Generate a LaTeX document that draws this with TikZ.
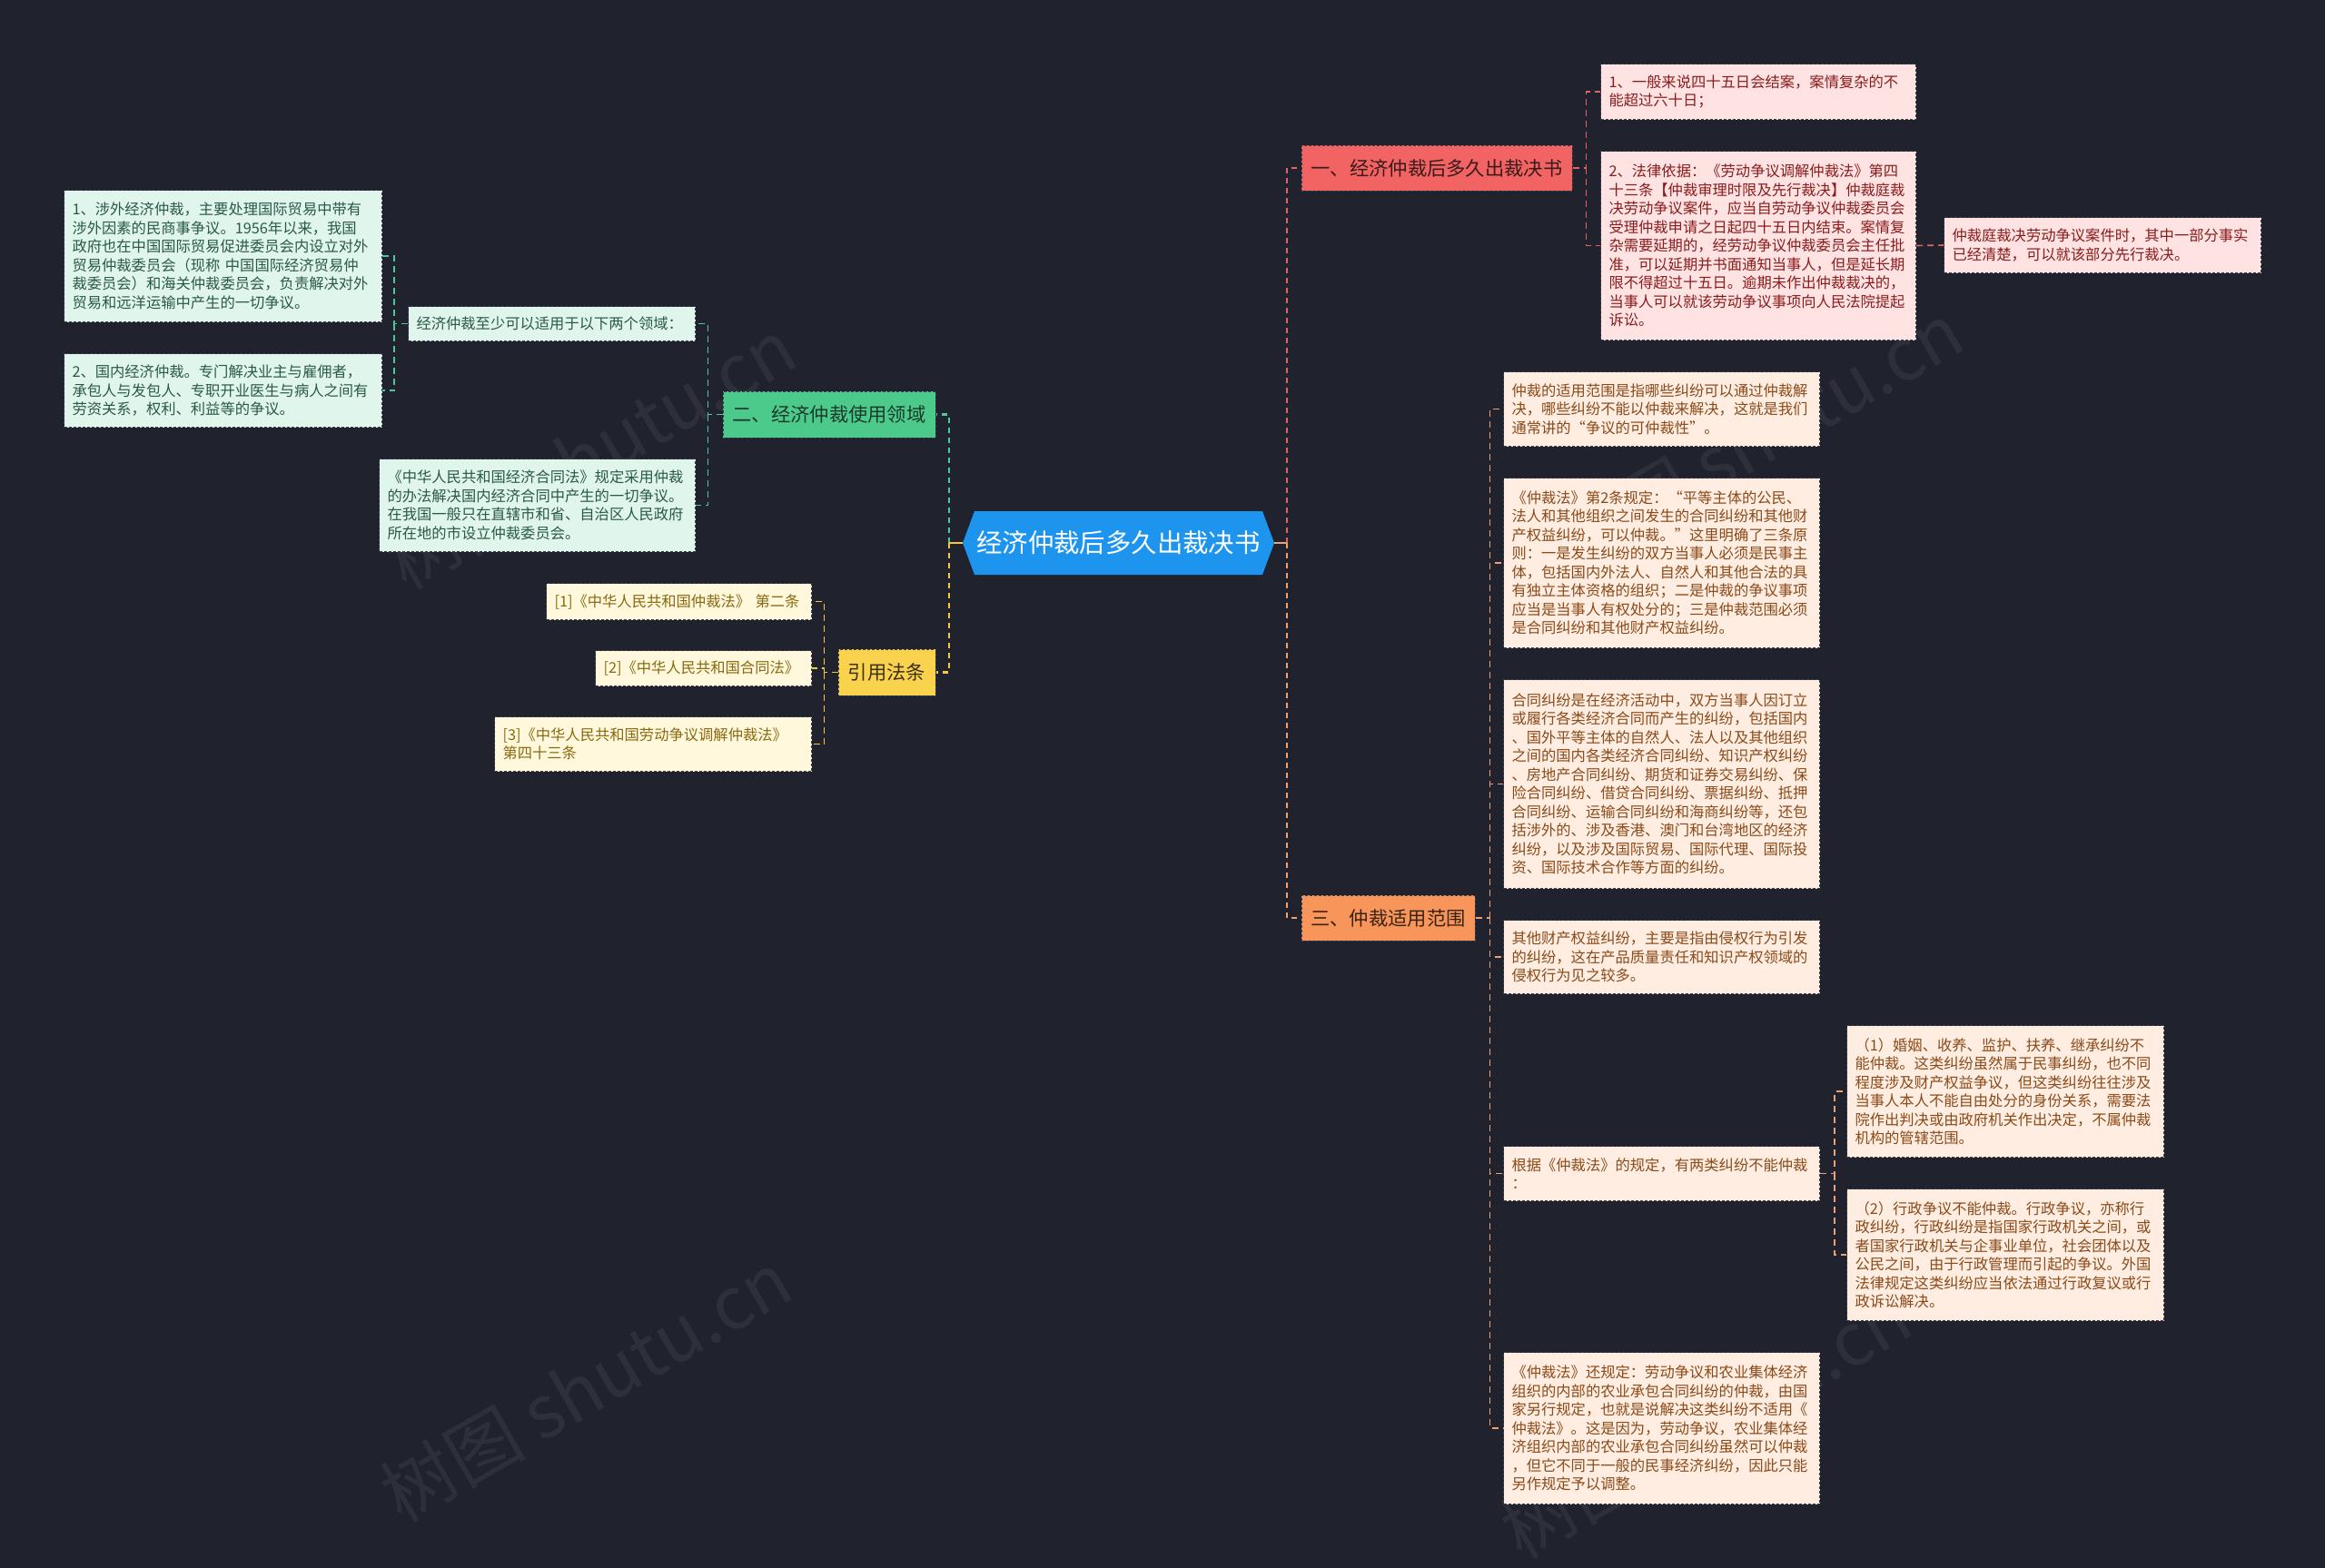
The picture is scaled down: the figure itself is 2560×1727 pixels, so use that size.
\documentclass[tikz,border=0pt]{standalone}
\usepackage{fontspec}
\setmainfont{Noto Sans CJK SC}
\usetikzlibrary{calc}
\definecolor{bgc}{HTML}{20232E}
\definecolor{edgec}{HTML}{3A3F4C}
\definecolor{rootc}{HTML}{1D95EE}
% red
\definecolor{bR}{HTML}{F26363}
\definecolor{btR}{HTML}{3A1A1A}
\definecolor{lfR}{HTML}{FFE3E3}
\definecolor{ltR}{HTML}{8A1C1C}
\definecolor{cR}{HTML}{E06464}
% green
\definecolor{bG}{HTML}{4CCA8C}
\definecolor{btG}{HTML}{1C3A2C}
\definecolor{lfG}{HTML}{E0F5EC}
\definecolor{ltG}{HTML}{2A5A45}
\definecolor{cG}{HTML}{4CC99A}
% yellow
\definecolor{bY}{HTML}{F9D24E}
\definecolor{btY}{HTML}{3A3010}
\definecolor{lfY}{HTML}{FFF8DC}
\definecolor{ltY}{HTML}{8A6A10}
\definecolor{cY}{HTML}{F5C842}
% orange
\definecolor{bO}{HTML}{F7955A}
\definecolor{btO}{HTML}{3A2212}
\definecolor{lfO}{HTML}{FEEDE0}
\definecolor{ltO}{HTML}{8B4A1A}
\definecolor{cO}{HTML}{F0A070}
\begin{document}
\begin{tikzpicture}[x=1pt,y=-1pt,
  leaf/.style={anchor=north west, draw=edgec, dash pattern=on 3pt off 2pt, line width=1pt,
    align=left, inner xsep=9pt, inner ysep=0pt, font=\fontsize{16.3pt}{20.5pt}\selectfont},
  leafR/.style={leaf, fill=lfR, text=ltR},
  leafG/.style={leaf, fill=lfG, text=ltG},
  leafY/.style={leaf, fill=lfY, text=ltY},
  leafO/.style={leaf, fill=lfO, text=ltO},
  branch/.style={draw=edgec, dash pattern=on 3pt off 2pt, line width=1pt, inner sep=0pt,
    font=\fontsize{21.3pt}{25pt}\selectfont},
  brnR/.style={branch, fill=bR, text=btR},
  brnG/.style={branch, fill=bG, text=btG},
  brnY/.style={branch, fill=bY, text=btY},
  brnO/.style={branch, fill=bO, text=btO},
  rootnode/.style={inner sep=0pt, text=white, font=\fontsize{28.4pt}{32pt}\selectfont,
    path picture={\fill[rootc] (path picture bounding box.west)
      -- ([xshift=13pt]path picture bounding box.north west)
      -- ([xshift=-13pt]path picture bounding box.north east)
      -- (path picture bounding box.east)
      -- ([xshift=-13pt]path picture bounding box.south east)
      -- ([xshift=13pt]path picture bounding box.south west) -- cycle;}},
  conn/.style={line width=2.2pt, dash pattern=on 6pt off 5pt},
  connR/.style={conn, draw=cR}, connG/.style={conn, draw=cG},
  connY/.style={conn, draw=cY}, connO/.style={conn, draw=cO},
  lconn/.style={line width=1.6pt, dash pattern=on 7pt off 5pt},
  lconnR/.style={lconn, draw=cR}, lconnG/.style={lconn, draw=cG},
  lconnY/.style={lconn, draw=cY}, lconnO/.style={lconn, draw=cO},
  wm/.style={text=white, opacity=0.06, font=\fontsize{80pt}{90pt}\selectfont, rotate=30}
]
\fill[bgc] (0,0) rectangle (2560,1727);
\useasboundingbox (0,0) rectangle (2560,1727);

% watermarks
\node[wm] (wm1) at (650,500) {树图 shutu.cn};
\node[wm] (wm2) at (1935,482) {树图 shutu.cn};
\node[wm] (wm3) at (645,1527) {树图 shutu.cn};
\node[wm] (wm4) at (1878,1567) {树图 shutu.cn};

% root
\node[rootnode, minimum width=343pt, minimum height=70pt] (root) at (1231.5,598) {经济仲裁后多久出裁决书};

% branches
\node[brnR, minimum width=298pt, minimum height=50pt] (b1) at (1582,185) {一、经济仲裁后多久出裁决书};
\node[brnG, minimum width=234pt, minimum height=51pt] (b2) at (913,456.5) {二、经济仲裁使用领域};
\node[brnO, minimum width=191pt, minimum height=50pt] (b3) at (1528.5,1011) {三、仲裁适用范围};
\node[brnY, minimum width=107pt, minimum height=51pt] (b4) at (976.5,740.5) {引用法条};

% red leaves
\node[leafR, text width=329pt, minimum height=61pt] (r1) at (1762,70) {1、一般来说四十五日会结案，案情复杂的不\\能超过六十日；};
\node[leafR, text width=329pt, minimum height=208pt] (r2) at (1762,166) {2、法律依据：《劳动争议调解仲裁法》第四\\十三条【仲裁审理时限及先行裁决】仲裁庭裁\\决劳动争议案件，应当自劳动争议仲裁委员会\\受理仲裁申请之日起四十五日内结束。案情复\\杂需要延期的，经劳动争议仲裁委员会主任批\\准，可以延期并书面通知当事人，但是延长期\\限不得超过十五日。逾期未作出仲裁裁决的，\\当事人可以就该劳动争议事项向人民法院提起\\诉讼。};
\node[leafR, text width=331pt, minimum height=61pt] (r3) at (2140,239) {仲裁庭裁决劳动争议案件时，其中一部分事实\\已经清楚，可以就该部分先行裁决。};

% green leaves
\node[leafG, text width=298pt, minimum height=38pt] (g0) at (449,337) {经济仲裁至少可以适用于以下两个领域：};
\node[leafG, text width=332pt, minimum height=145pt] (g1) at (70,209) {1、涉外经济仲裁，主要处理国际贸易中带有\\涉外因素的民商事争议。1956年以来，我国\\政府也在中国国际贸易促进委员会内设立对外\\贸易仲裁委员会（现称 中国国际经济贸易仲\\裁委员会）和海关仲裁委员会，负责解决对外\\贸易和远洋运输中产生的一切争议。};
\node[leafG, text width=332pt, minimum height=81pt] (g2) at (70,389) {2、国内经济仲裁。专门解决业主与雇佣者，\\承包人与发包人、专职开业医生与病人之间有\\劳资关系，权利、利益等的争议。};
\node[leafG, text width=330pt, minimum height=102pt] (g3) at (417,505) {《中华人民共和国经济合同法》规定采用仲裁\\的办法解决国内经济合同中产生的一切争议。\\在我国一般只在直辖市和省、自治区人民政府\\所在地的市设立仲裁委员会。};

% yellow leaves
\node[leafY, text width=274pt, minimum height=40pt] (y1) at (601,642) {[1]《中华人民共和国仲裁法》 第二条};
\node[leafY, text width=220pt, minimum height=39pt] (y2) at (655,716) {[2]《中华人民共和国合同法》};
\node[leafY, text width=331pt, minimum height=60pt] (y3) at (544,789) {[3]《中华人民共和国劳动争议调解仲裁法》\\第四十三条};

% orange leaves
\node[leafO, text width=330pt, minimum height=82pt] (o1) at (1655,409) {仲裁的适用范围是指哪些纠纷可以通过仲裁解\\决，哪些纠纷不能以仲裁来解决，这就是我们\\通常讲的“争议的可仲裁性”。};
\node[leafO, text width=330pt, minimum height=187pt] (o2) at (1655,526) {《仲裁法》第2条规定：“平等主体的公民、\\法人和其他组织之间发生的合同纠纷和其他财\\产权益纠纷，可以仲裁。”这里明确了三条原\\则：一是发生纠纷的双方当事人必须是民事主\\体，包括国内外法人、自然人和其他合法的具\\有独立主体资格的组织；二是仲裁的争议事项\\应当是当事人有权处分的；三是仲裁范围必须\\是合同纠纷和其他财产权益纠纷。};
\node[leafO, text width=330pt, minimum height=230pt] (o3) at (1655,748) {合同纠纷是在经济活动中，双方当事人因订立\\或履行各类经济合同而产生的纠纷，包括国内\\、国外平等主体的自然人、法人以及其他组织\\之间的国内各类经济合同纠纷、知识产权纠纷\\、房地产合同纠纷、期货和证券交易纠纷、保\\险合同纠纷、借贷合同纠纷、票据纠纷、抵押\\合同纠纷、运输合同纠纷和海商纠纷等，还包\\括涉外的、涉及香港、澳门和台湾地区的经济\\纠纷，以及涉及国际贸易、国际代理、国际投\\资、国际技术合作等方面的纠纷。};
\node[leafO, text width=330pt, minimum height=81pt] (o4) at (1655,1013) {其他财产权益纠纷，主要是指由侵权行为引发\\的纠纷，这在产品质量责任和知识产权领域的\\侵权行为见之较多。};
\node[leafO, text width=330pt, minimum height=60pt] (o5) at (1655,1262) {根据《仲裁法》的规定，有两类纠纷不能仲裁\\：};
\node[leafO, text width=331pt, minimum height=145pt] (o6) at (2033,1129) {（1）婚姻、收养、监护、扶养、继承纠纷不\\能仲裁。这类纠纷虽然属于民事纠纷，也不同\\程度涉及财产权益争议，但这类纠纷往往涉及\\当事人本人不能自由处分的身份关系，需要法\\院作出判决或由政府机关作出决定，不属仲裁\\机构的管辖范围。};
\node[leafO, text width=331pt, minimum height=145pt] (o7) at (2033,1309) {（2）行政争议不能仲裁。行政争议，亦称行\\政纠纷，行政纠纷是指国家行政机关之间，或\\者国家行政机关与企事业单位，社会团体以及\\公民之间，由于行政管理而引起的争议。外国\\法律规定这类纠纷应当依法通过行政复议或行\\政诉讼解决。};
\node[leafO, text width=330pt, minimum height=167pt] (o8) at (1655,1489) {《仲裁法》还规定：劳动争议和农业集体经济\\组织的内部的农业承包合同纠纷的仲裁，由国\\家另行规定，也就是说解决这类纠纷不适用《\\仲裁法》。这是因为，劳动争议，农业集体经\\济组织内部的农业承包合同纠纷虽然可以仲裁\\，但它不同于一般的民事经济纠纷，因此只能\\另作规定予以调整。};

% root connectors
\coordinate (jR) at ($(root.east)+(14,0)$);
\coordinate (jL) at ($(root.west)+(-15,0)$);
\draw[connR] (jR) |- (b1.west);
\draw[connO] (jR) |- (b3.west);
\draw[connO, solid] (root.east) -- (jR);
\draw[connG] (jL) |- (b2.east);
\draw[connY] (jL) |- (b4.east);
\draw[connY, solid] (root.west) -- (jL);

% red connectors
\coordinate (j1) at ($(b1.east)+(15,0)$);
\draw[lconnR] (b1.east) -- (j1) |- (r1.west);
\draw[lconnR] (j1) |- (r2.west);
\draw[lconnR] (r2.east) -- (r3.west);

% green connectors
\coordinate (j2) at ($(b2.west)+(-16,0)$);
\draw[lconnG] (b2.west) -- (j2) |- (g0.east);
\draw[lconnG] (j2) |- (g3.east);
\coordinate (j2a) at ($(g0.west)+(-15,0)$);
\draw[lconnG] (g0.west) -- (j2a) |- (g1.east);
\draw[lconnG] (j2a) |- (g2.east);

% yellow connectors
\coordinate (j4) at ($(b4.west)+(-15,0)$);
\draw[lconnY] (b4.west) -- (j4) |- (y1.east);
\draw[lconnY] (j4) |- (y2.east);
\draw[lconnY] (j4) |- (y3.east);

% orange connectors
\coordinate (j3) at ($(b3.east)+(16,0)$);
\draw[lconnO] (b3.east) -- (j3);
\draw[lconnO] (j3) |- (o1.west);
\draw[lconnO] (j3) |- (o2.west);
\draw[lconnO] (j3) |- (o3.west);
\draw[lconnO] (j3) |- (o4.west);
\draw[lconnO] (j3) |- (o5.west);
\draw[lconnO] (j3) |- (o8.west);
\coordinate (j5) at ($(o5.east)+(16,0)$);
\draw[lconnO] (o5.east) -- (j5) |- (o6.west);
\draw[lconnO] (j5) |- (o7.west);
\end{tikzpicture}
\end{document}
